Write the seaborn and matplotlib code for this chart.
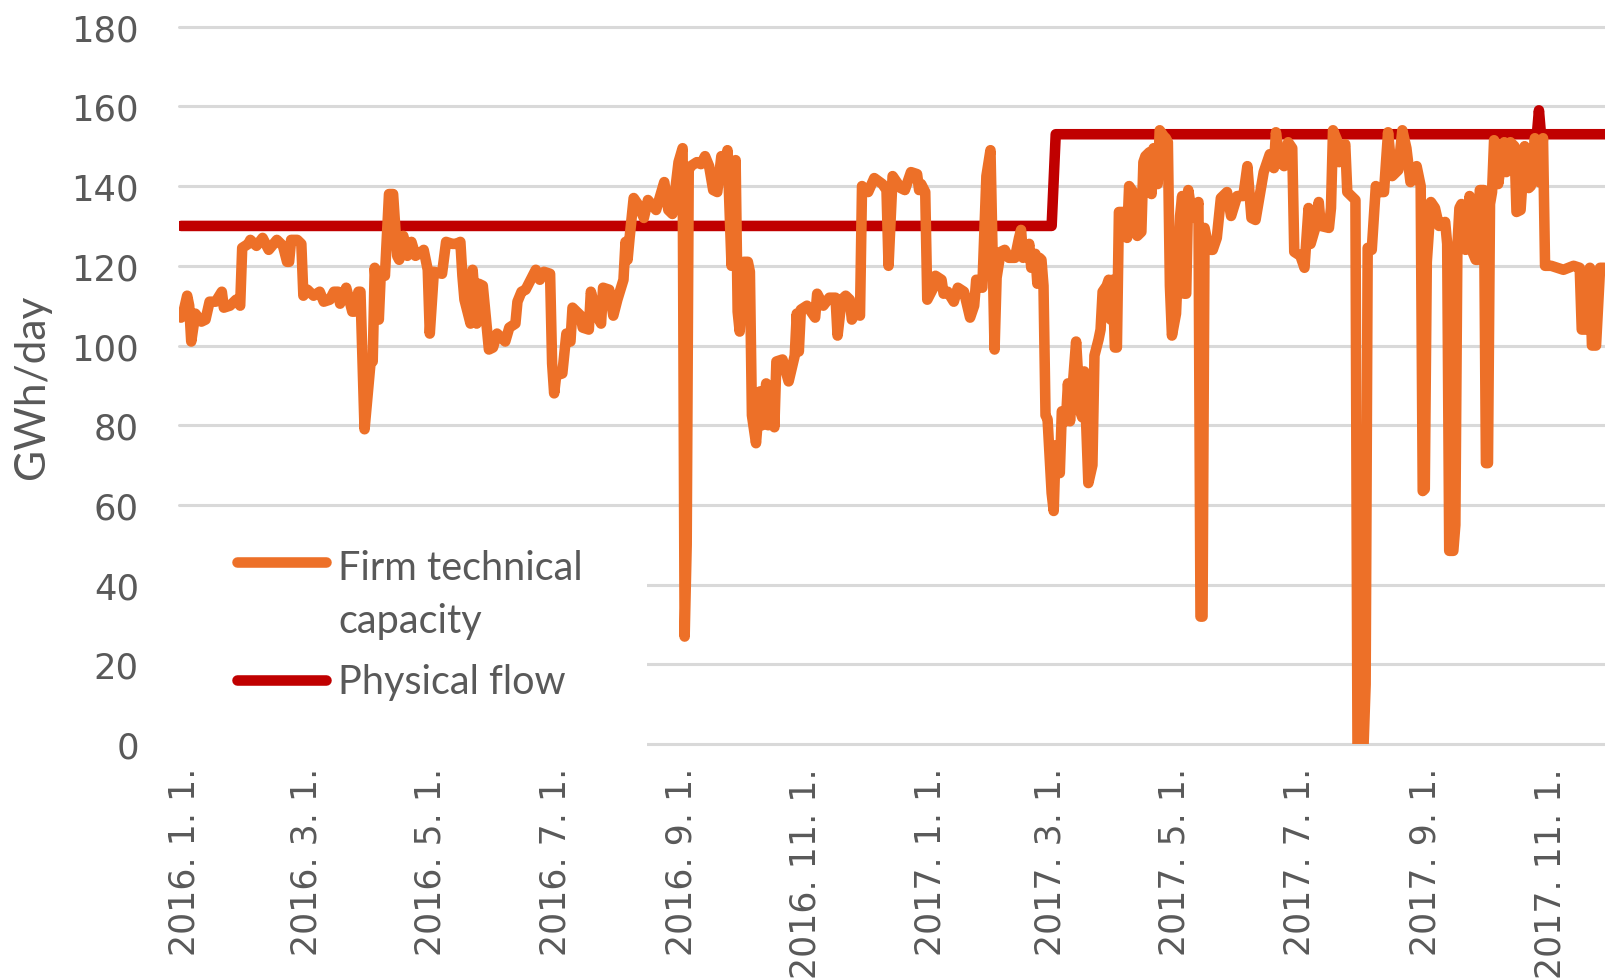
import matplotlib
matplotlib.use("Agg")
import matplotlib.pyplot as plt
import matplotlib.transforms as mtransforms
from matplotlib.lines import Line2D
from matplotlib.patches import Rectangle
from matplotlib.legend_handler import HandlerLine2D
import numpy as np
import seaborn as sns
import pandas as pd

sns.set_theme(style="white")
plt.rcParams["font.family"] = ["DejaVu Sans"]

ORANGE = "#ED7028"
RED = "#C00000"
TEXT = "#595959"
GRID = "#D9D9D9"

START = "2016-01-01"

# orange series: days since 2016-01-01 and GWh/day
capacity_day = [
    0, 1, 3, 4, 5, 7, 10, 12, 14, 17, 20, 21, 24, 27, 29, 30, 33, 34, 37, 40,
    43, 47, 50, 52, 53, 54, 57, 59, 60, 62, 65, 68, 70, 73, 75, 77, 78, 81, 84, 85,
    87, 88, 90, 93, 94, 95, 97, 98, 100, 102, 104, 106, 107, 109, 111, 113, 115, 118, 119, 121,
    122, 124, 128, 130, 133, 135, 137, 138, 139, 142, 143, 145, 146, 148, 151, 153, 155, 159, 161, 164,
    165, 167, 169, 172, 174, 176, 178, 181, 182, 183, 184, 187, 189, 191, 192, 196, 197, 200, 201, 204,
    206, 207, 210, 212, 214, 217, 218, 219, 220, 222, 224, 227, 229, 233, 237, 239, 241, 244, 246, 247,
    248, 249, 250, 253, 255, 257, 259, 261, 263, 265, 267, 268, 270, 272, 273, 274, 276, 278, 279, 280,
    282, 284, 285, 287, 288, 290, 291, 292, 295, 298, 301, 302, 303, 304, 307, 311, 312, 315, 318, 321,
    322, 324, 326, 328, 329, 331, 333, 334, 337, 340, 344, 346, 347, 349, 351, 353, 355, 358, 361, 362,
    363, 365, 366, 369, 370, 373, 374, 376, 379, 381, 384, 387, 389, 390, 393, 395, 397, 399, 400, 402,
    404, 406, 409, 411, 412, 413, 415, 416, 417, 419, 420, 421, 422, 423, 424, 425, 427, 428, 429, 431,
    432, 433, 434, 435, 436, 437, 439, 441, 442, 443, 445, 447, 448, 450, 451, 452, 454, 455, 456, 457,
    458, 459, 460, 462, 464, 465, 467, 469, 471, 472, 473, 475, 476, 477, 479, 480, 482, 483, 484, 485,
    486, 488, 490, 491, 492, 493, 494, 496, 497, 499, 500, 501, 502, 503, 505, 506, 508, 510, 513, 515,
    518, 521, 523, 525, 527, 528, 531, 534, 536, 537, 539, 541, 543, 545, 546, 549, 551, 553, 554, 556,
    558, 559, 563, 564, 565, 567, 568, 571, 572, 574, 576, 577, 580, 581, 582, 584, 586, 588, 590, 592,
    594, 597, 599, 601, 603, 606, 608, 609, 610, 611, 613, 615, 617, 620, 621, 622, 624, 625, 626, 627,
    628, 630, 632, 633, 635, 636, 637, 639, 640, 641, 642, 643, 644, 645, 646, 649, 650, 652, 654, 655,
    657, 659, 661, 662, 664, 666, 668, 669, 672, 675, 678, 683, 686, 687, 689, 691, 692, 694, 696, 698,
]
capacity_val = [
    107, 108, 112.5, 110, 101, 108, 106, 106.5, 111, 111, 113.5, 109.5, 110, 111.5, 110, 124.5, 125.5, 126.5, 125, 127,
    124, 126.5, 125, 121, 121, 126.5, 126.5, 125.5, 112.5, 114, 112.5, 113.5, 111, 111.5, 113.5, 113.5, 110.5, 114.5, 108.5, 108.5,
    113.5, 113.5, 79, 96, 96, 119.5, 106.5, 118.5, 117.5, 138, 138, 122.5, 121.5, 127.5, 122.5, 126, 122.5, 123.5, 124, 119,
    103, 118.5, 118, 126, 125.5, 125.5, 126, 117.5, 111.5, 105.5, 119, 105.5, 115.5, 115, 99, 99.5, 103, 101, 104.5, 105.5,
    111, 113.5, 114, 117, 119, 116.5, 118.5, 118, 95.5, 88, 92.5, 93, 103, 101, 109.5, 107.5, 104.5, 104, 113.5, 107.5,
    105.5, 114.5, 114, 107.5, 111.5, 116.5, 126, 121.5, 127, 137, 135.5, 132, 136.5, 134, 141, 134, 133, 146, 149.5, 27,
    50, 144, 145, 146, 145.5, 147.5, 145, 139, 138.5, 147.5, 144, 149, 120, 146.5, 108.5, 103.5, 121, 121, 118.5, 82.5,
    75.5, 88.5, 80, 90.5, 80, 89, 79.5, 96, 96.5, 91, 97.5, 108, 98.5, 109, 110, 107, 113, 110, 112, 112,
    102.5, 111.5, 112.5, 111.5, 106.5, 108.5, 107.5, 140, 138.5, 142, 140.5, 139, 120, 142.5, 141, 139.5, 139, 143.5, 143, 139,
    140.5, 138.5, 111.5, 114.5, 117.5, 116.5, 113, 113.5, 111, 114.5, 113.5, 107, 110, 116.5, 114.5, 142.5, 149, 99, 117, 123.5,
    124, 122, 122, 127, 129, 122, 122.5, 125.5, 119.5, 123, 115.5, 122, 121.5, 115, 82.5, 81.5, 63, 58.5, 75, 68,
    83.5, 83.5, 81, 90.5, 81, 87.5, 101, 83.5, 82, 93.5, 65.5, 70, 97.5, 101.5, 104, 113.5, 115, 116.5, 106.5, 116.5,
    99.5, 99.5, 133.5, 133.5, 127, 140, 138.5, 127.5, 128.5, 146, 147.5, 148.5, 138, 149.5, 140.5, 154, 152.5, 152, 151, 115,
    102.5, 108, 132.5, 137.5, 113, 113, 139, 132.5, 132, 136, 32, 32, 129.5, 127, 124, 124, 127, 137, 138.5, 132.5,
    137.5, 137.5, 145, 132, 131.5, 134.5, 143.5, 148, 144.5, 153.5, 146, 145, 151, 149.5, 123.5, 122.5, 119.5, 134.5, 125.5, 129,
    136, 130, 129.5, 134.5, 154, 151.5, 146, 150.5, 138.5, 137.5, 136.5, 0, 0, 15, 124.5, 124, 140, 138.5, 138.5, 153.5,
    142.5, 144, 154, 149.5, 141, 145, 140, 63.5, 64, 121, 136, 134.5, 130, 131, 125.5, 48.5, 48.5, 55, 125, 134.5,
    135.5, 124, 137.5, 124, 121.5, 121.5, 139, 139, 70.5, 70.5, 135.5, 138.5, 151.5, 150.5, 140.5, 151, 143.5, 151, 150, 133.5,
    134, 150, 139.5, 140, 152, 141, 152, 120, 120, 119.5, 119, 120, 119.5, 104, 104, 119.5, 100, 100, 119.5, 119.5,
]

# red series (step line)
flow_day = [0, 427, 429, 665, 666, 667, 700]
flow_val = [130, 130, 153, 153, 159, 153, 153]

tick_dates = ["2016-01-01", "2016-03-01", "2016-05-01", "2016-07-01", "2016-09-01", "2016-11-01",
              "2017-01-01", "2017-03-01", "2017-05-01", "2017-07-01", "2017-09-01", "2017-11-01"]
tick_labels = ["2016. 1. 1.", "2016. 3. 1.", "2016. 5. 1.", "2016. 7. 1.", "2016. 9. 1.", "2016. 11. 1.",
               "2017. 1. 1.", "2017. 3. 1.", "2017. 5. 1.", "2017. 7. 1.", "2017. 9. 1.", "2017. 11. 1."]
y_ticks = [0, 20, 40, 60, 80, 100, 120, 140, 160, 180]
legend_labels = ["Firm technical\ncapacity", "Physical flow"]


class ShiftedLine(HandlerLine2D):
    # legend handle lifted to sit beside the first line of a two-line label
    def __init__(self, shift, **kw):
        super().__init__(**kw)
        self.shift = shift

    def create_artists(self, legend, orig_handle, xdescent, ydescent, width, height, fontsize, trans):
        arts = super().create_artists(legend, orig_handle, xdescent, ydescent, width, height, fontsize, trans)
        for a in arts:
            a.set_ydata(np.asarray(a.get_ydata()) + self.shift)
        return arts


start = pd.Timestamp(START)
cap = pd.DataFrame({"date": start + pd.to_timedelta(capacity_day, unit="D"), "value": capacity_val})
flow = pd.DataFrame({"date": start + pd.to_timedelta(flow_day, unit="D"), "value": flow_val})

W, H = 1605, 979
left, right, top, bottom = 179, 1605, 27.6, 745.2
fig = plt.figure(figsize=(W / 100, H / 100), dpi=100)
ax = fig.add_axes([left / W, (H - bottom) / H, (right - left) / W, (bottom - top) / H])

LW = 7.6
sns.lineplot(data=flow, x="date", y="value", color=RED, lw=LW, sort=False,
             solid_capstyle="round", solid_joinstyle="round", ax=ax, zorder=2)
sns.lineplot(data=cap, x="date", y="value", color=ORANGE, lw=LW, sort=False,
             solid_capstyle="round", solid_joinstyle="round", ax=ax, zorder=3)

ax.set_xlim(start - pd.Timedelta(days=1), start + pd.Timedelta(days=698.4))
ax.set_ylim(0, 180)
ax.set_xticks(pd.to_datetime(tick_dates))
ax.set_xticklabels(tick_labels, rotation=90, fontsize=25, color=TEXT)
ax.set_yticks(y_ticks)
ax.set_yticklabels([str(v) for v in y_ticks], fontsize=25.5, color=TEXT)
ax.tick_params(axis="x", length=0, pad=16.5)
ax.tick_params(axis="y", length=0, pad=28.8)
shift = mtransforms.ScaledTranslation(3 / 100, 0, fig.dpi_scale_trans)
for lab in ax.get_xticklabels():
    lab.set_transform(lab.get_transform() + shift)
ax.set_xlabel("")
ax.set_ylabel("GWh/day", fontsize=30.5, color=TEXT, family="Lato")
ax.yaxis.set_label_coords(-0.0895, 0.5)

ax.grid(axis="y", color=GRID, lw=2.2)
ax.grid(axis="x", visible=False)
ax.set_axisbelow(True)
for gl in ax.get_ygridlines():
    gl.set_clip_on(False)
for s in ax.spines.values():
    s.set_visible(False)

# white box behind the legend hides the lower gridlines
ax.add_patch(Rectangle((-0.01, -0.03), 0.338, 0.323, transform=ax.transAxes,
                       facecolor="white", edgecolor="none", zorder=1, clip_on=False))

h_cap = Line2D([], [], color=ORANGE, lw=LW, solid_capstyle="round")
h_flow = Line2D([], [], color=RED, lw=LW, solid_capstyle="round")
leg = ax.legend([h_cap, h_flow], legend_labels, loc="upper left", bbox_to_anchor=(0.0405, 0.272),
                frameon=False, borderpad=0, borderaxespad=0, handlelength=2.26, handletextpad=0.31,
                labelspacing=0.61, prop={"family": "Lato", "size": 28.5}, labelcolor=TEXT,
                handler_map={h_cap: ShiftedLine(24.0), h_flow: HandlerLine2D()})
leg.get_texts()[0].set_linespacing(1.54)

fig.savefig("out.png", dpi=100)
